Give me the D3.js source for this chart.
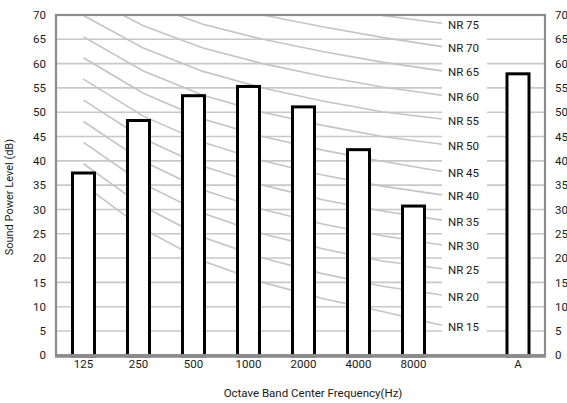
<!DOCTYPE html>
<html>
<head>
<meta charset="utf-8">
<script src="https://cdn.jsdelivr.net/npm/d3@7"></script>
<style>
  body { margin: 0; background: #fff; }
  text { font-family: Roboto, "Noto Sans", sans-serif; fill: #1a1a1a; }
</style>
</head>
<body>
<div id="chart"></div>
<script>
const bands = ["125", "250", "500", "1000", "2000", "4000", "8000"];
const bandLevels = [37.5, 48.3, 53.4, 55.3, 51.1, 42.3, 30.7];
const overallLabel = "A";
const overallLevel = 57.9;
const yTicks = [0, 5, 10, 15, 20, 25, 30, 35, 40, 45, 50, 55, 60, 65, 70];

// NR curves, values at 125 ... 8000 Hz
const nrNames = ["NR 15", "NR 20", "NR 25", "NR 30", "NR 35", "NR 40", "NR 45",
                 "NR 50", "NR 55", "NR 60", "NR 65", "NR 70", "NR 75"];
const nrCurves = [
  [35.1, 26.0, 19.4, 15, 11.7, 9.0, 6.2],
  [39.4, 30.6, 24.3, 20, 16.8, 14.2, 12.4],
  [43.8, 35.3, 29.2, 25, 21.9, 19.4, 17.8],
  [48.1, 39.9, 34.0, 30, 27.0, 24.6, 22.7],
  [52.5, 44.6, 38.9, 35, 32.0, 29.7, 27.8],
  [56.8, 49.2, 43.8, 40, 37.1, 34.8, 33.0],
  [61.2, 53.9, 48.6, 45, 42.2, 39.9, 37.8],
  [65.5, 58.5, 53.5, 50, 47.3, 45.0, 43.4],
  [69.9, 63.2, 58.4, 55, 52.3, 50.1, 48.6],
  [74.2, 67.8, 63.2, 60, 57.4, 55.2, 53.5],
  [78.6, 72.5, 68.1, 65, 62.5, 60.3, 58.5],
  [82.9, 77.1, 73.0, 70, 67.6, 65.4, 63.5],
  [87.3, 81.8, 77.9, 75, 72.2, 69.9, 68.3]
];

const width = 567;
const height = 403;
const plot = { left: 56, right: 545, top: 15, bottom: 355.3 };
const bandRight = 441;     // end of octave band area
const labelLeft = 442;     // NR label column
const labelRight = 487;

const svg = d3.select("#chart").append("svg")
  .attr("width", width)
  .attr("height", height);

const y = d3.scaleLinear()
  .domain([0, 70])
  .range([plot.bottom, plot.top]);

const x = d3.scaleBand()
  .domain(bands)
  .range([plot.left, bandRight])
  .paddingInner(0.6)
  .paddingOuter(0.3);

const xA = d3.scaleBand()
  .domain([overallLabel])
  .range([490.5, 545.5])
  .paddingInner(0.6)
  .paddingOuter(0.3);

const xCurve = d3.scalePoint()
  .domain(bands)
  .range([x("125") + x.bandwidth() / 2, labelLeft]);

svg.append("defs").append("clipPath")
  .attr("id", "plot-clip")
  .append("rect")
  .attr("x", plot.left)
  .attr("y", plot.top)
  .attr("width", plot.right - plot.left)
  .attr("height", plot.bottom - plot.top);

// gridlines, broken at the NR label column
const grid = svg.append("g");
yTicks.filter(d => d > 0 && d < 70).forEach(d => {
  grid.append("line")
    .attr("x1", plot.left).attr("x2", labelLeft)
    .attr("y1", y(d)).attr("y2", y(d))
    .attr("stroke", "#c8c8c8").attr("stroke-width", 1.6);
  grid.append("line")
    .attr("x1", labelRight).attr("x2", plot.right)
    .attr("y1", y(d)).attr("y2", y(d))
    .attr("stroke", "#c8c8c8").attr("stroke-width", 1.6);
});

// NR curves
const line = d3.line()
  .x((d, i) => xCurve(bands[i]))
  .y(d => y(d));

svg.append("g")
  .attr("clip-path", "url(#plot-clip)")
  .selectAll("path")
  .data(nrCurves)
  .enter()
  .append("path")
  .attr("d", line)
  .attr("fill", "none")
  .attr("stroke", "#c4c4c4")
  .attr("stroke-width", 1.6);

svg.append("g")
  .selectAll("text")
  .data(nrCurves)
  .enter()
  .append("text")
  .attr("x", (labelLeft + labelRight) / 2 - 1)
  .attr("y", d => y(d[d.length - 1]) + 1.5)
  .attr("dy", "0.35em")
  .attr("text-anchor", "middle")
  .style("font-size", "11.5px")
  .text((d, i) => nrNames[i]);

// bars
const bars = bands.map((b, i) => ({ key: b, value: bandLevels[i], pos: x(b), w: x.bandwidth() }));
bars.push({ key: overallLabel, value: overallLevel, pos: xA(overallLabel), w: xA.bandwidth() });

svg.append("g")
  .selectAll("rect")
  .data(bars)
  .enter()
  .append("rect")
  .attr("x", d => d.pos)
  .attr("y", d => y(d.value))
  .attr("width", d => d.w)
  .attr("height", d => y(0) - y(d.value) + 0.7)
  .attr("fill", "#fff")
  .attr("stroke", "#000")
  .attr("stroke-width", 3);

// frame
svg.append("rect")
  .attr("x", plot.left)
  .attr("y", plot.top)
  .attr("width", plot.right - plot.left)
  .attr("height", plot.bottom - plot.top)
  .attr("fill", "none")
  .attr("stroke", "#8c8c8c")
  .attr("stroke-width", 2.2);

svg.append("line")
  .attr("x1", plot.left - 1).attr("x2", plot.right + 1)
  .attr("y1", plot.bottom + 0.7).attr("y2", plot.bottom + 0.7)
  .attr("stroke", "#8c8c8c").attr("stroke-width", 3.4);

// axes
const yLeft = svg.append("g")
  .attr("transform", `translate(${plot.left},0)`)
  .call(d3.axisLeft(y).tickValues(yTicks).tickSize(0).tickPadding(10));
yLeft.select(".domain").remove();

const yRight = svg.append("g")
  .attr("transform", `translate(${plot.right},0)`)
  .call(d3.axisRight(y).tickValues(yTicks).tickSize(0).tickPadding(10));
yRight.select(".domain").remove();

const xAxis = svg.append("g")
  .attr("transform", `translate(0,${plot.bottom})`)
  .call(d3.axisBottom(x).tickSize(0).tickPadding(5));
xAxis.select(".domain").remove();

const xAxisA = svg.append("g")
  .attr("transform", `translate(0,${plot.bottom})`)
  .call(d3.axisBottom(xA).tickSize(0).tickPadding(5));
xAxisA.select(".domain").remove();

svg.selectAll(".tick text")
  .style("font-size", "11.5px")
  .style("fill", "#1a1a1a")
  .attr("font-family", null);

// titles
svg.append("text")
  .attr("transform", `translate(13,${(plot.top + plot.bottom) / 2 + 12}) rotate(-90)`)
  .attr("text-anchor", "middle")
  .style("font-size", "11px")
  .text("Sound Power Level (dB)");

svg.append("text")
  .attr("x", 313)
  .attr("y", 397)
  .attr("text-anchor", "middle")
  .style("font-size", "11.5px")
  .text("Octave Band Center Frequency(Hz)");
</script>
</body>
</html>
